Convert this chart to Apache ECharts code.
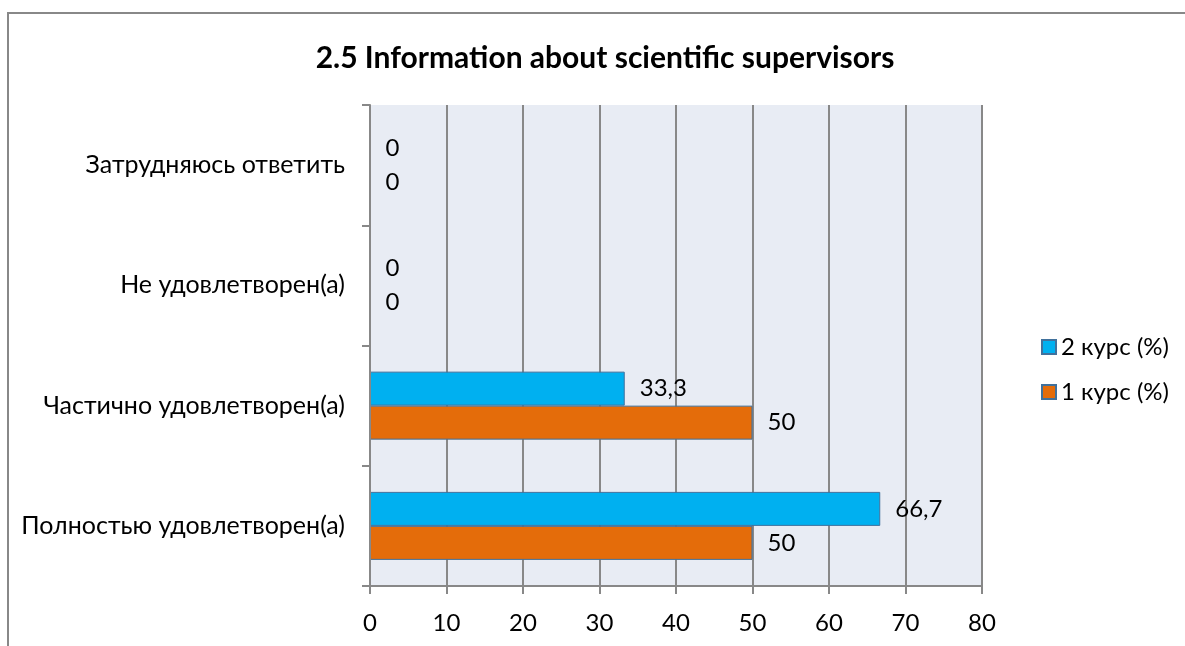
<!DOCTYPE html>
<html>
<head>
<meta charset="utf-8">
<script src="https://cdn.jsdelivr.net/npm/echarts@6/dist/echarts.min.js"></script>
<style>
html,body{margin:0;padding:0;background:#fff;}
#chart{width:1185px;height:646px;}
</style>
</head>
<body>
<div id="chart"></div>
<script>
const categories = ['Полностью удовлетворен(а)', 'Частично удовлетворен(а)', 'Не удовлетворен(а)', 'Затрудняюсь ответить'];
const course2 = [66.7, 33.3, 0, 0];
const course1 = [50, 50, 0, 0];
const seriesNames = ['2 курс (%)', '1 курс (%)'];
const xTicks = [0, 80, 10];

const FONT = 'Lato';
const chart = echarts.init(document.getElementById('chart'), null, {renderer: 'canvas'});
const fmt = p => String(p.value).replace('.', ',');
const labelCfg = {show: true, position: 'right', distance: 15, color: '#000', fontFamily: FONT, fontSize: 24, formatter: fmt};

chart.setOption({
  animation: false,
  backgroundColor: '#fff',
  title: {
    text: '2.5 Information about scientific supervisors',
    left: 600, textAlign: 'center', top: 38,
    textStyle: {fontFamily: FONT, fontWeight: 'bold', fontSize: 30, color: '#000'}
  },
  legend: {
    orient: 'vertical', left: 1036, top: 330,
    data: [seriesNames[0], seriesNames[1]],
    icon: 'rect', itemWidth: 14, itemHeight: 14, itemGap: 21,
    textStyle: {fontFamily: FONT, fontSize: 24, color: '#000'}
  },
  grid: {left: 370, right: 203, top: 105, bottom: 60, show: true, backgroundColor: '#E8ECF4', borderWidth: 0},
  xAxis: {
    type: 'value', min: xTicks[0], max: xTicks[1], interval: xTicks[2],
    axisLine: {show: true, lineStyle: {color: '#888', width: 2}},
    axisTick: {show: true, length: 8, lineStyle: {color: '#888', width: 2}},
    splitLine: {show: true, lineStyle: {color: '#888', width: 2}},
    axisLabel: {color: '#000', fontFamily: FONT, fontSize: 24, margin: 25}
  },
  yAxis: {
    type: 'category', data: categories, z: 3,
    axisLine: {show: true, lineStyle: {color: '#888', width: 2}},
    axisTick: {show: true, length: 8, lineStyle: {color: '#888', width: 2}},
    axisLabel: {color: '#000', fontFamily: FONT, fontSize: 25, margin: 25}
  },
  series: [
    {name: seriesNames[0], type: 'bar', data: course2, barWidth: 34, barGap: '0%',
     itemStyle: {color: '#00B0F0', borderColor: '#41719C', borderWidth: 1}, label: labelCfg},
    {name: seriesNames[1], type: 'bar', data: course1, barWidth: 34, barGap: '0%',
     itemStyle: {color: '#E46C0A', borderColor: '#41719C', borderWidth: 1}, label: labelCfg}
  ],
  graphic: [{
    type: 'polyline', silent: true,
    shape: {points: [[8, 646], [8, 13], [1185, 13]]},
    style: {stroke: '#888', lineWidth: 2, fill: null}
  }]
});
</script>
</body>
</html>
